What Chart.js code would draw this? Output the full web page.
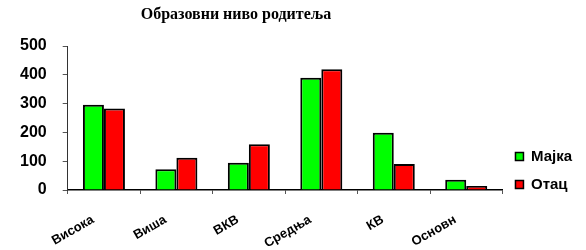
<!DOCTYPE html>
<html>
<head>
<meta charset="utf-8">
<script src="https://cdn.jsdelivr.net/npm/chart.js@4/dist/chart.umd.min.js"></script>
<style>
  html, body { margin: 0; padding: 0; background: #fff; }
  #wrap { width: 586px; height: 250px; }
</style>
</head>
<body>
<div id="wrap"><canvas id="chart"></canvas></div>
<script>
// data
const categories = ['Висока', 'Виша', 'ВКВ', 'Средња', 'КВ', 'Основн'];
const majka = [296, 72, 95, 390, 199, 36];
const otac = [283, 112, 159, 419, 90, 14];
const yTicks = [0, 100, 200, 300, 400, 500];
const chartTitle = 'Образовни ниво родитеља';

// draws the title a bit left of centre, like the original
const titlePlugin = {
  id: 'leftTitle',
  afterDraw(chart) {
    const ctx = chart.ctx;
    ctx.save();
    ctx.font = 'bold 16px "Liberation Serif"';
    ctx.fillStyle = '#000';
    ctx.textAlign = 'center';
    ctx.textBaseline = 'middle';
    ctx.fillText(chartTitle, 236, 15);
    ctx.restore();
  }
};

// legend sits a little lower than the plot bottom in the original
const legendShift = {
  id: 'legendShift',
  afterLayout(chart) {
    chart.legend.top += 15;
    chart.legend.bottom += 15;
  }
};

new Chart(document.getElementById('chart'), {
  type: 'bar',
  data: {
    labels: categories,
    datasets: [{
      label: 'Мајка',
      data: majka,
      backgroundColor: '#00ff00',
      borderColor: '#000',
      borderWidth: 2,
      borderSkipped: 'bottom'
    }, {
      label: 'Отац',
      data: otac,
      backgroundColor: '#ff0000',
      borderColor: '#000',
      borderWidth: 2,
      borderSkipped: 'bottom'
    }]
  },
  options: {
    responsive: true,
    maintainAspectRatio: false,
    animation: false,
    categoryPercentage: 0.58,
    barPercentage: 1.0,
    layout: { padding: { top: 46, left: 4, right: 4, bottom: 0 } },
    plugins: {
      title: { display: false },
      tooltip: { enabled: false },
      legend: {
        position: 'right',
        align: 'end',
        fullSize: false,
        labels: {
          font: { family: '"Liberation Sans"', size: 15, weight: 'bold' },
          color: '#000',
          boxWidth: 8,
          boxHeight: 8,
          padding: 13,
          generateLabels(chart) {
            return chart.data.datasets.map((ds, i) => ({
              text: ds.label,
              fillStyle: ds.backgroundColor,
              strokeStyle: '#000',
              lineWidth: 1.5,
              datasetIndex: i
            }));
          }
        }
      }
    },
    scales: {
      x: {
        type: 'category',
        offset: true,
        // axis runs half a category past the last group
        afterDataLimits(scale) { scale.max = categories.length - 1 + 0.46; },
        afterFit(scale) { scale.height = 60; },
        border: { display: true, color: '#000', width: 1.5 },
        grid: { display: true, offset: true, drawOnChartArea: false, drawTicks: true, tickLength: 4, color: '#555', lineWidth: 1 },
        ticks: {
          autoSkip: false,
          maxRotation: 30,
          minRotation: 30,
          padding: 18,
          labelOffset: -11,
          color: '#000',
          font: { family: '"Liberation Sans"', size: 13, weight: 'bold' }
        }
      },
      y: {
        min: 0,
        max: 500,
        afterBuildTicks(scale) { scale.ticks = yTicks.map(v => ({ value: v })); },
        border: { display: true, color: '#333', width: 1 },
        grid: { display: true, drawOnChartArea: false, drawTicks: true, tickLength: 5, color: '#555' },
        ticks: {
          padding: 16,
          color: '#000',
          font: { family: '"Liberation Sans"', size: 16, weight: 'bold' }
        }
      }
    }
  },
  plugins: [titlePlugin, legendShift]
});
</script>
</body>
</html>
